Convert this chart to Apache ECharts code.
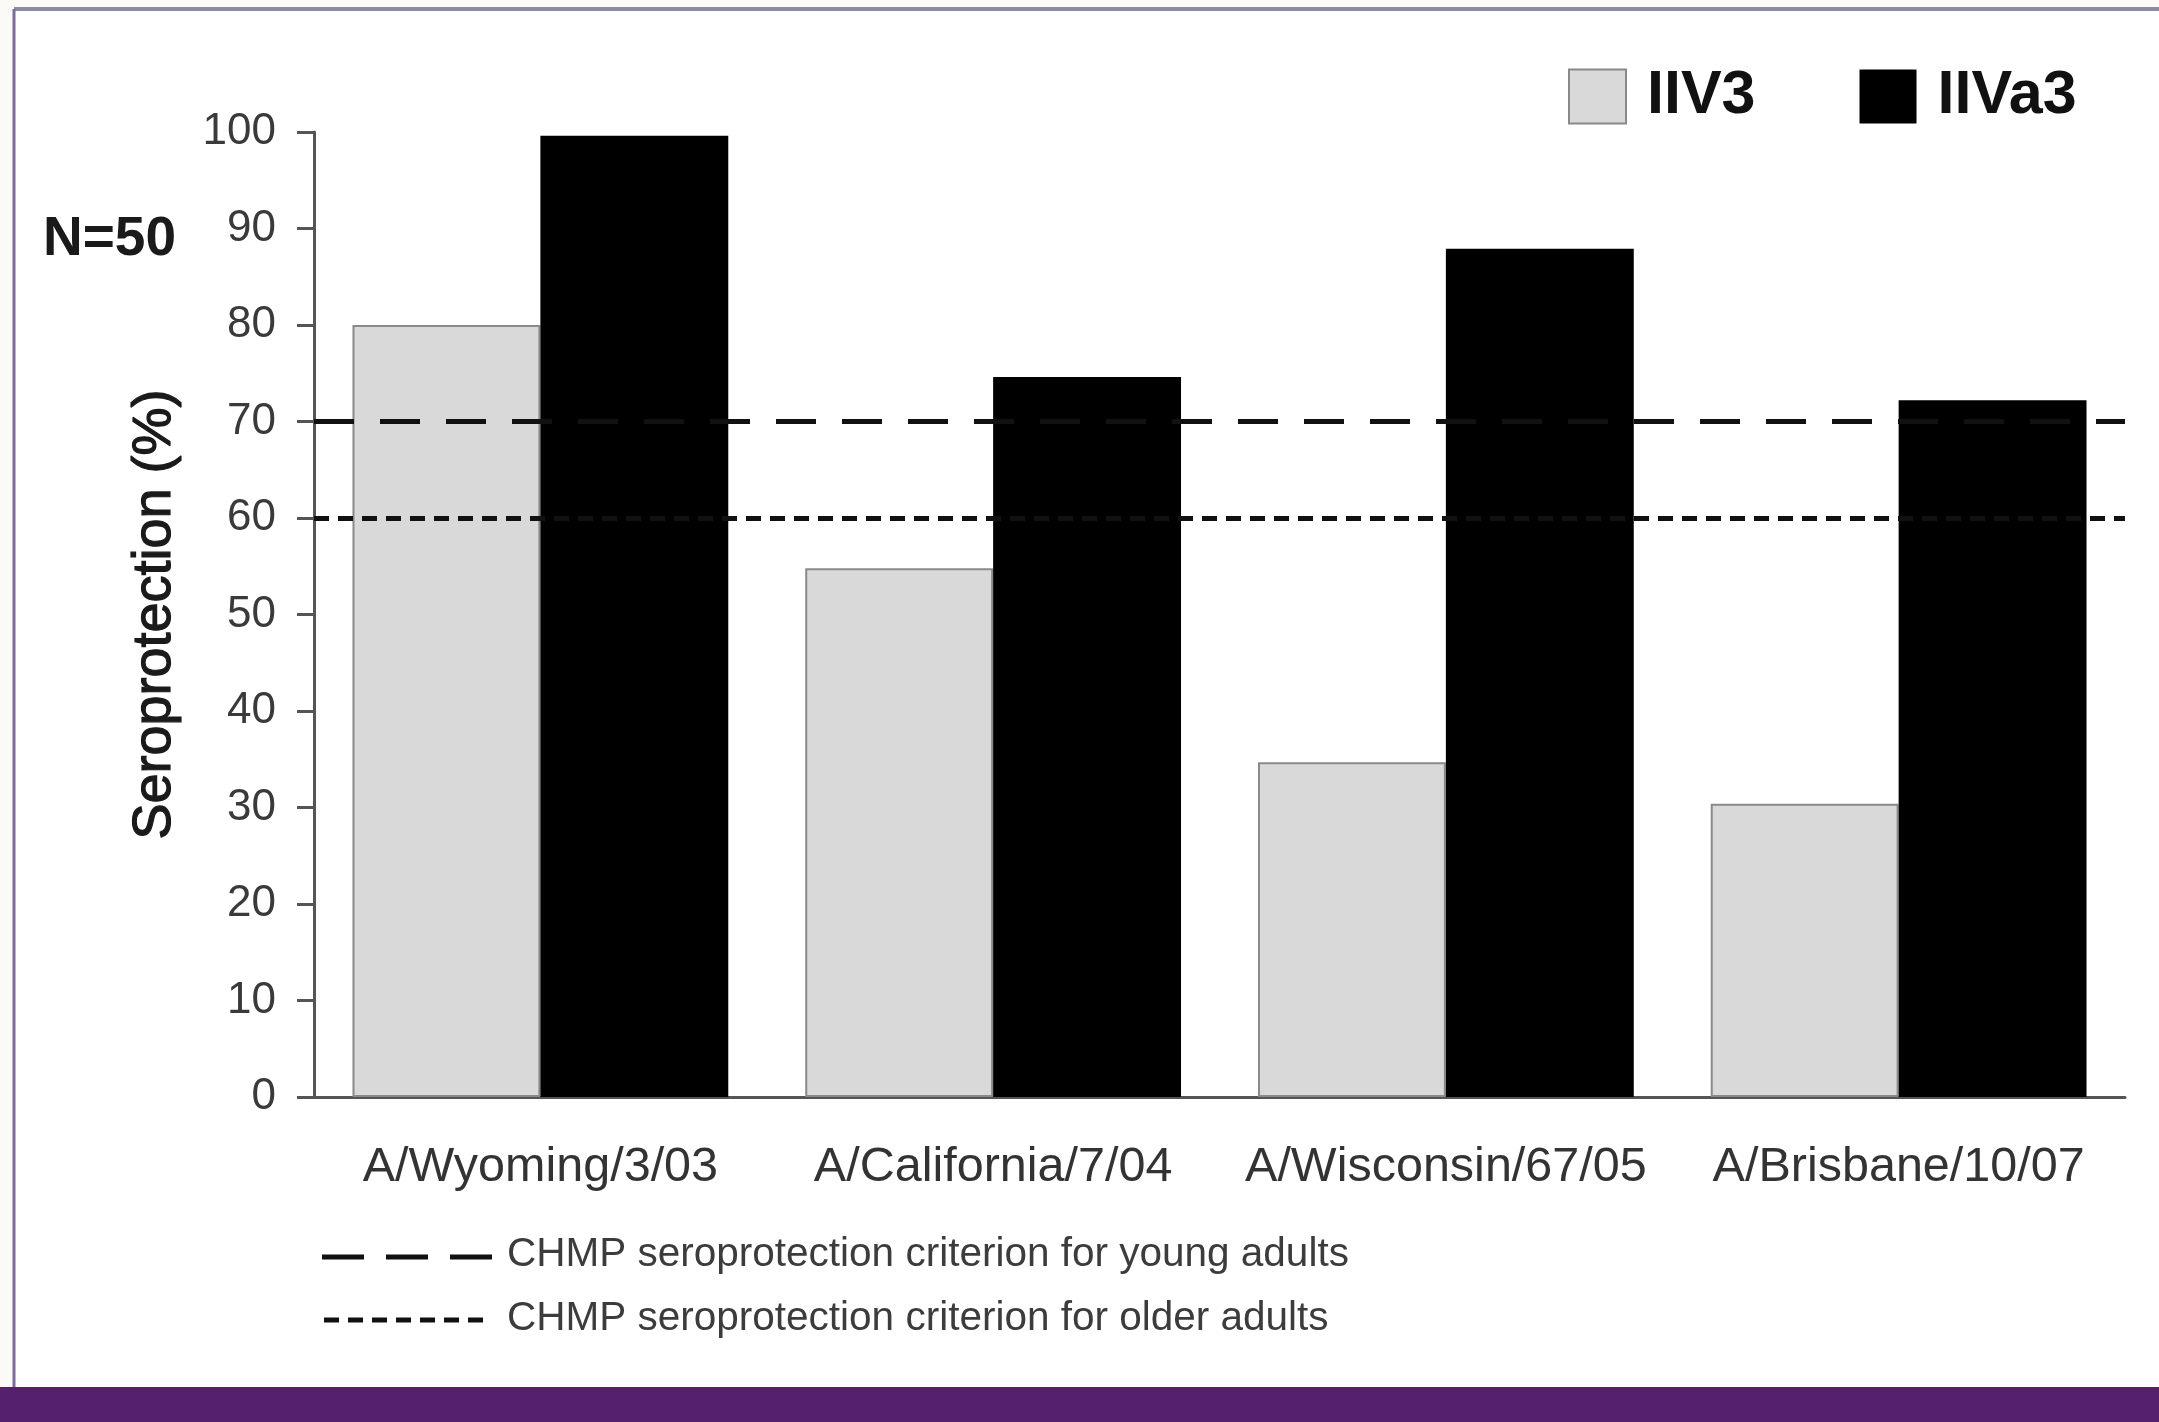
<!DOCTYPE html>
<html>
<head>
<meta charset="utf-8">
<script src="https://cdn.jsdelivr.net/npm/echarts@6/dist/echarts.min.js"></script>
<style>
  html, body { margin: 0; padding: 0; background: #ffffff; }
  #chart { width: 2159px; height: 1422px; }
</style>
</head>
<body>
<div id="chart"></div>
<script>
// ---- data ----
const categories = ['A/Wyoming/3/03', 'A/California/7/04', 'A/Wisconsin/67/05', 'A/Brisbane/10/07'];
const seriesNames = ['IIV3', 'IIVa3'];
const iiv3Values = [80, 54.8, 34.7, 30.4];
const iiva3Values = [99.6, 74.6, 87.9, 72.2];
const yMin = 0, yMax = 100, yInterval = 10;
const youngCriterion = 70;
const olderCriterion = 60;
const sampleSizeText = 'N=50';
const yAxisTitle = 'Seroprotection (%)';
const youngCriterionText = 'CHMP seroprotection criterion for young adults';
const olderCriterionText = 'CHMP seroprotection criterion for older adults';

const FONT = '"Liberation Sans", Arial, Helvetica, sans-serif';

const chart = echarts.init(document.getElementById('chart'));
chart.setOption({
  animation: false,
  backgroundColor: '#ffffff',
  textStyle: { fontFamily: FONT },
  grid: { left: 314, top: 132, right: 34, bottom: 325, containLabel: false },
  legend: {
    data: seriesNames,
    left: 1568, top: 66,
    padding: 0,
    itemWidth: 57, itemHeight: 54, itemGap: 104,
    icon: 'rect',
    textStyle: { fontFamily: FONT, fontSize: 61, fontWeight: 'bold', color: '#111', padding: [0, 0, 0, 16] },
    selectedMode: false
  },
  xAxis: {
    type: 'category',
    data: categories,
    axisLine: { show: true, lineStyle: { color: '#555', width: 3 } },
    axisTick: { show: false },
    axisLabel: { interval: 0, fontFamily: FONT, fontSize: 48.5, color: '#333', margin: 46 },
    splitLine: { show: false }
  },
  yAxis: {
    type: 'value',
    min: yMin, max: yMax, interval: yInterval,
    name: yAxisTitle,
    nameLocation: 'middle',
    nameRotate: 90,
    nameGap: 132,
    nameTextStyle: { fontFamily: FONT, fontSize: 54, color: '#1a1a1a', textBorderColor: '#1a1a1a', textBorderWidth: 1.2 },
    axisLine: { show: true, lineStyle: { color: '#555', width: 3 } },
    axisTick: { show: true, length: 17, lineStyle: { color: '#555', width: 3 } },
    axisLabel: { fontFamily: FONT, fontSize: 44, color: '#3a3a3a', margin: 38 },
    splitLine: { show: false }
  },
  series: [
    {
      name: seriesNames[0],
      type: 'bar',
      data: iiv3Values,
      barGap: '0%',
      barCategoryGap: '17%',
      itemStyle: { color: '#d9d9d9', borderColor: '#8a8a8a', borderWidth: 2 }
    },
    {
      name: seriesNames[1],
      type: 'bar',
      data: iiva3Values,
      barGap: '0%',
      barCategoryGap: '17%',
      itemStyle: { color: '#000000' },
      markLine: {
        silent: true,
        symbol: 'none',
        label: { show: false },
        data: [
          { yAxis: youngCriterion, lineStyle: { color: '#111', width: 5, type: [40, 26] } },
          { yAxis: olderCriterion, lineStyle: { color: '#111', width: 5, type: [15, 9] } }
        ]
      }
    }
  ],
  graphic: [
    // frame
    { type: 'rect', z: -10, silent: true, shape: { x: 0, y: 0, width: 2159, height: 1422 }, style: { fill: '#fbfaf6' } },
    { type: 'rect', z: -9, silent: true, shape: { x: 14, y: 9, width: 2145, height: 1378 }, style: { fill: '#ffffff' } },
    { type: 'line', silent: true, shape: { x1: 14, y1: 9, x2: 2159, y2: 9 }, style: { stroke: '#8d8aa6', lineWidth: 4 } },
    { type: 'line', silent: true, shape: { x1: 14, y1: 9, x2: 14, y2: 1387 }, style: { stroke: '#7e6c9b', lineWidth: 3 } },
    { type: 'rect', silent: true, shape: { x: 0, y: 1387, width: 2159, height: 35 }, style: { fill: '#55216f' } },
    // N=50
    { type: 'text', silent: true, x: 43, y: 240,
      style: { text: sampleSizeText, font: 'bold 55px ' + FONT, fill: '#1a1a1a', textVerticalAlign: 'middle' } },
    // footnote keys
    { type: 'line', silent: true, shape: { x1: 322, y1: 1257, x2: 492, y2: 1257 },
      style: { stroke: '#111', lineWidth: 5, lineDash: [42, 22] } },
    { type: 'line', silent: true, shape: { x1: 324, y1: 1320, x2: 483, y2: 1320 },
      style: { stroke: '#111', lineWidth: 5, lineDash: [15, 9] } },
    { type: 'text', silent: true, x: 507, y: 1255,
      style: { text: youngCriterionText, font: '40.5px ' + FONT, fill: '#3c3c3c', textVerticalAlign: 'middle' } },
    { type: 'text', silent: true, x: 507, y: 1319,
      style: { text: olderCriterionText, font: '40.5px ' + FONT, fill: '#3c3c3c', textVerticalAlign: 'middle' } }
  ]
});
</script>
</body>
</html>
